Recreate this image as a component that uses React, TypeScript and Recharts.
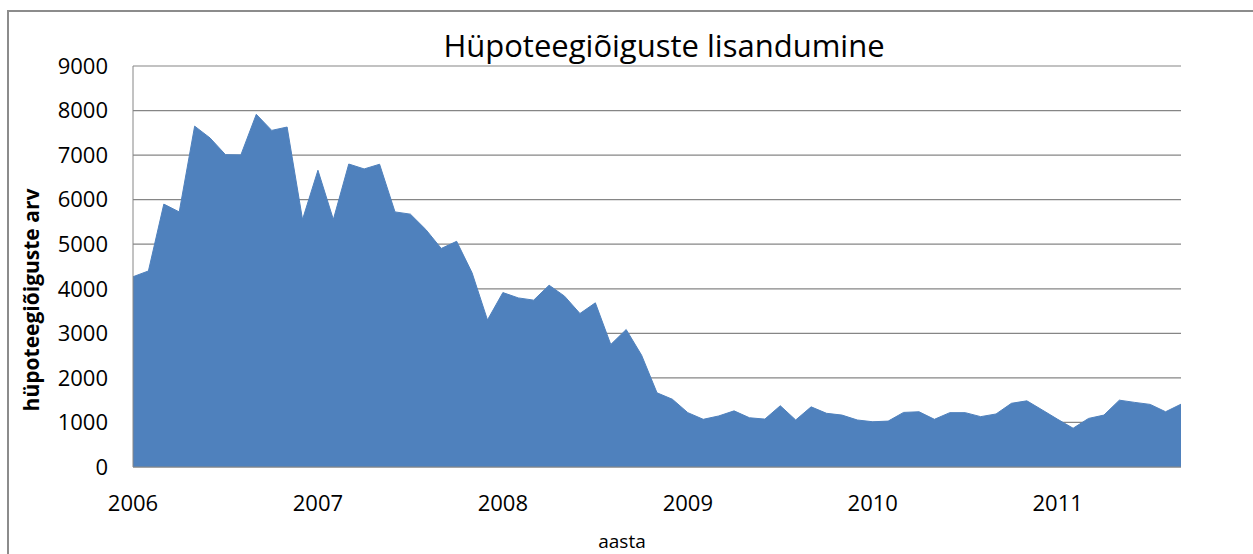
import React from 'react'
import { AreaChart, Area, XAxis, YAxis, CartesianGrid } from 'recharts'

// monthly additions, Jan 2006 .. Sep 2011
const years = ['2006', '2007', '2008', '2009', '2010', '2011']
const values = [
  4270, 4400, 5900, 5725, 7650, 7385, 7010, 7005, 7915, 7555, 7630,
  5555, 6660, 5555, 6800, 6690, 6795, 5725, 5675, 5330, 4905, 5065, 4360,
  3300, 3915, 3795, 3745, 4080, 3835, 3445, 3685, 2750, 3085, 2510, 1665,
  1520, 1220, 1070, 1145, 1260, 1105, 1075, 1375, 1055, 1350, 1205, 1165,
  1055, 1015, 1030, 1225, 1240, 1070, 1220, 1220, 1130, 1190, 1430, 1485,
  1280, 1070, 870, 1090, 1165, 1500, 1450, 1405, 1240, 1410,
]
const yTicks = [0, 1000, 2000, 3000, 4000, 5000, 6000, 7000, 8000, 9000]
const title = 'Hüpoteegiõiguste lisandumine'
const yTitle = 'hüpoteegiõiguste arv'
const xTitle = 'aasta'

const data = values.map((v, i) => ({ m: i, v }))
const xTicks = years.map((_, i) => i * 12)

const font = '"Open Sans", "Liberation Sans", sans-serif'

export default function App() {
  return (
    <div style={{ position: 'relative', width: 1253, height: 554, overflow: 'hidden', fontFamily: font }}>
      <style>{'body{margin:0}'}</style>
      {/* outer chart frame, runs off the right and bottom edge */}
      <div
        style={{
          position: 'absolute',
          left: 7,
          top: 10,
          width: 1400,
          height: 700,
          border: '2px solid #8c8c8c',
        }}
      />
      <div style={{ position: 'absolute', left: 0, top: 0 }}>
        <AreaChart width={1253} height={554} data={data} margin={{ top: 66, right: 72, bottom: 57, left: 0 }}>
          <CartesianGrid vertical={false} stroke="#868686" strokeWidth={1.2} />
          <Area
            type="linear"
            dataKey="v"
            fill="#4F81BD"
            fillOpacity={1}
            stroke="#4F81BD"
            strokeWidth={1}
            isAnimationActive={false}
          />
          <XAxis
            dataKey="m"
            type="number"
            domain={[0, 68]}
            ticks={xTicks}
            tickFormatter={(i) => years[i / 12]}
            height={30}
            tickSize={0}
            tickMargin={28}
            stroke="#868686"
            tick={{ fontSize: 22, fill: '#000', fontFamily: font }}
          />
          <YAxis
            domain={[0, 9000]}
            ticks={yTicks}
            width={133}
            tickSize={0}
            tickMargin={25}
            stroke="#868686"
            tick={{ fontSize: 22, fill: '#000', fontFamily: font }}
          />
        </AreaChart>
      </div>
      <svg width={1253} height={554} style={{ position: 'absolute', left: 0, top: 0, pointerEvents: 'none' }}>
        <text x={664} y={57} textAnchor="middle" fontSize={31} fill="#000" fontFamily={font}>
          {title}
        </text>
        <text
          transform="translate(31,300) rotate(-90)"
          textAnchor="middle"
          dominantBaseline="central"
          fontSize={21}
          fontWeight="bold"
          fill="#000"
          fontFamily={font}
        >
          {yTitle}
        </text>
        <text x={622} y={548} textAnchor="middle" fontSize={19} fill="#000" fontFamily={font}>
          {xTitle}
        </text>
      </svg>
    </div>
  )
}
